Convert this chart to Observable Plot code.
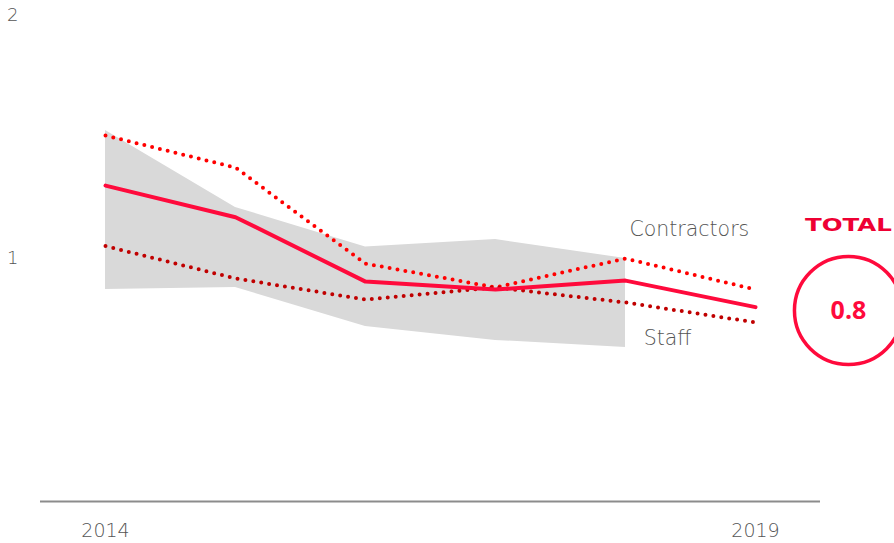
<!DOCTYPE html>
<html>
<head>
<meta charset="utf-8">
<script src="https://cdn.jsdelivr.net/npm/d3@7"></script>
<script src="https://cdn.jsdelivr.net/npm/@observablehq/plot@0.6"></script>
<style>
  html, body { margin: 0; padding: 0; background: #fff; }
  #chart svg { display: block; }
</style>
</head>
<body>
<div id="chart"></div>
<script>
const years = [2014, 2015, 2016, 2017, 2018, 2019];
const total = [1.30, 1.17, 0.905, 0.872, 0.909, 0.80];
const contractors = [1.506, 1.374, 0.979, 0.881, 1.0, 0.872];
const staff = [1.051, 0.918, 0.831, 0.881, 0.819, 0.737];
const bandYears = [2014, 2015, 2016, 2017, 2018];
const bandHigh = [1.527, 1.21, 1.047, 1.078, 1.0];
const bandLow = [0.872, 0.881, 0.72, 0.663, 0.634];
const yTicks = [1, 2];
const xTicks = [2014, 2019];
const seriesLabels = [
  {x: 2018.03, y: 1.12, text: "Contractors"},
  {x: 2018.14, y: 0.67, text: "Staff"}
];
const badge = {x: 2019.715, y: 0.786, value: "0.8", logoY: 1.136, logo: "TOTAL"};

const band = bandYears.map((x, i) => ({x, hi: bandHigh[i], lo: bandLow[i]}));
const rows = (vals) => years.map((x, i) => ({x, y: vals[i]}));

const grey = "#555555";
const font = "'DejaVu Sans', sans-serif";

const chart = Plot.plot({
  width: 894,
  height: 543,
  marginLeft: 40,
  marginRight: 74,
  marginTop: 15,
  marginBottom: 42,
  style: {fontFamily: font, background: "#fff", overflow: "visible"},
  x: {domain: [2013.5, 2019.5], axis: null},
  y: {domain: [0, 2], axis: null},
  marks: [
    Plot.areaY(band, {x: "x", y1: "lo", y2: "hi", fill: "#d9d9d9"}),
    Plot.ruleY([0], {stroke: "#8c8c8c", strokeWidth: 2}),
    Plot.axisY(yTicks, {tickSize: 0, tickPadding: 22, fontSize: 18, fontWeight: 200, fill: grey, tickFormat: d => String(d), label: null}),
    Plot.axisX(xTicks, {tickSize: 0, tickPadding: 22, fontSize: 19, fontWeight: 200, fill: grey, tickFormat: d => String(d), label: null}),
    Plot.line(rows(contractors), {x: "x", y: "y", stroke: "#ff0000", strokeWidth: 4, strokeDasharray: "0,8", strokeLinecap: "round"}),
    Plot.line(rows(staff), {x: "x", y: "y", stroke: "#c00000", strokeWidth: 4, strokeDasharray: "0,8", strokeLinecap: "round"}),
    Plot.line(rows(total), {x: "x", y: "y", stroke: "#ff0a3c", strokeWidth: 4}),
    Plot.text(seriesLabels, {x: "x", y: "y", text: "text", textAnchor: "start", fontSize: 20.5, fontWeight: 200, fill: grey}),
    Plot.dot([badge], {x: "x", y: "y", r: 54, stroke: "#ff0a3c", strokeWidth: 3.5, fill: "none"}),
    Plot.text([badge], {x: "x", y: "y", text: "value", fontSize: 25, fontWeight: "bold", fill: "#ff0a3c", fontFamily: "'Open Sans', sans-serif"}),
    Plot.text([badge], {x: "x", y: "logoY", text: "logo", fontSize: 18, fontWeight: 900, fill: "#ee0033", fontFamily: "'DejaVu Sans', sans-serif", className: "logo"})
  ]
});
document.getElementById("chart").appendChild(chart);
d3.select(chart).selectAll(".logo text").attr("textLength", 87).attr("lengthAdjust", "spacingAndGlyphs");
</script>
</body>
</html>
